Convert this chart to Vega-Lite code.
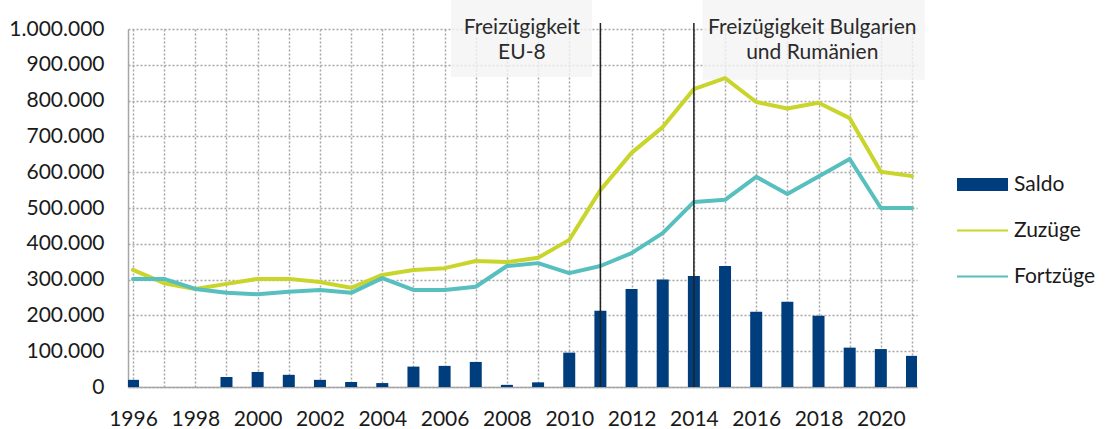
{
  "$schema": "https://vega.github.io/schema/vega-lite/v6.json",
  "width": 789,
  "height": 358,
  "autosize": {"type": "none"},
  "padding": {"left": 128, "top": 29, "right": 190, "bottom": 42},
  "background": "white",
  "config": {
    "view": {"stroke": null},
    "locale": {"number": {"decimal": ",", "thousands": ".", "grouping": [3], "currency": ["", " €"]}},
    "axis": {
      "labelFont": "Lato", "labelFontSize": 21, "labelColor": "#1a1a1a",
      "gridColor": "#a6a6a6", "gridDash": [2, 2], "gridWidth": 1.5,
      "domainColor": "#a6a6a6", "domainWidth": 1.5, "ticks": false, "title": null
    },
    "axisX": {
      "values": [1996,1997,1998,1999,2000,2001,2002,2003,2004,2005,2006,2007,2008,2009,2010,2011,2012,2013,2014,2015,2016,2017,2018,2019,2020,2021],
      "format": "d", "labelExpr": "datum.value % 2 == 0 ? datum.label : ''", "labelPadding": 21, "grid": true
    },
    "axisY": {
      "values": [0,100000,200000,300000,400000,500000,600000,700000,800000,900000,1000000],
      "format": ",d", "labelPadding": 24, "grid": true, "labelOverlap": false
    }
  },
  "datasets": {
    "series": [
      {"year": 1996, "serie": "Saldo", "value": 20000},
      {"year": 1997, "serie": "Saldo", "value": -12000},
      {"year": 1998, "serie": "Saldo", "value": 0},
      {"year": 1999, "serie": "Saldo", "value": 28000},
      {"year": 2000, "serie": "Saldo", "value": 42000},
      {"year": 2001, "serie": "Saldo", "value": 34000},
      {"year": 2002, "serie": "Saldo", "value": 20000},
      {"year": 2003, "serie": "Saldo", "value": 14000},
      {"year": 2004, "serie": "Saldo", "value": 11000},
      {"year": 2005, "serie": "Saldo", "value": 57000},
      {"year": 2006, "serie": "Saldo", "value": 59000},
      {"year": 2007, "serie": "Saldo", "value": 70000},
      {"year": 2008, "serie": "Saldo", "value": 6000},
      {"year": 2009, "serie": "Saldo", "value": 13000},
      {"year": 2010, "serie": "Saldo", "value": 96000},
      {"year": 2011, "serie": "Saldo", "value": 213000},
      {"year": 2012, "serie": "Saldo", "value": 274000},
      {"year": 2013, "serie": "Saldo", "value": 300000},
      {"year": 2014, "serie": "Saldo", "value": 310000},
      {"year": 2015, "serie": "Saldo", "value": 338000},
      {"year": 2016, "serie": "Saldo", "value": 210000},
      {"year": 2017, "serie": "Saldo", "value": 238000},
      {"year": 2018, "serie": "Saldo", "value": 199000},
      {"year": 2019, "serie": "Saldo", "value": 110000},
      {"year": 2020, "serie": "Saldo", "value": 106000},
      {"year": 2021, "serie": "Saldo", "value": 87000},
      {"year": 1996, "serie": "Zuzüge", "value": 327000},
      {"year": 1997, "serie": "Zuzüge", "value": 290000},
      {"year": 1998, "serie": "Zuzüge", "value": 274000},
      {"year": 1999, "serie": "Zuzüge", "value": 288000},
      {"year": 2000, "serie": "Zuzüge", "value": 302000},
      {"year": 2001, "serie": "Zuzüge", "value": 302000},
      {"year": 2002, "serie": "Zuzüge", "value": 293000},
      {"year": 2003, "serie": "Zuzüge", "value": 277000},
      {"year": 2004, "serie": "Zuzüge", "value": 313000},
      {"year": 2005, "serie": "Zuzüge", "value": 327000},
      {"year": 2006, "serie": "Zuzüge", "value": 332000},
      {"year": 2007, "serie": "Zuzüge", "value": 352000},
      {"year": 2008, "serie": "Zuzüge", "value": 349000},
      {"year": 2009, "serie": "Zuzüge", "value": 361000},
      {"year": 2010, "serie": "Zuzüge", "value": 411000},
      {"year": 2011, "serie": "Zuzüge", "value": 550000},
      {"year": 2012, "serie": "Zuzüge", "value": 654000},
      {"year": 2013, "serie": "Zuzüge", "value": 726000},
      {"year": 2014, "serie": "Zuzüge", "value": 832000},
      {"year": 2015, "serie": "Zuzüge", "value": 863000},
      {"year": 2016, "serie": "Zuzüge", "value": 796000},
      {"year": 2017, "serie": "Zuzüge", "value": 778000},
      {"year": 2018, "serie": "Zuzüge", "value": 794000},
      {"year": 2019, "serie": "Zuzüge", "value": 751000},
      {"year": 2020, "serie": "Zuzüge", "value": 601000},
      {"year": 2021, "serie": "Zuzüge", "value": 589000},
      {"year": 1996, "serie": "Fortzüge", "value": 302000},
      {"year": 1997, "serie": "Fortzüge", "value": 302000},
      {"year": 1998, "serie": "Fortzüge", "value": 274000},
      {"year": 1999, "serie": "Fortzüge", "value": 263000},
      {"year": 2000, "serie": "Fortzüge", "value": 259000},
      {"year": 2001, "serie": "Fortzüge", "value": 266000},
      {"year": 2002, "serie": "Fortzüge", "value": 271000},
      {"year": 2003, "serie": "Fortzüge", "value": 263000},
      {"year": 2004, "serie": "Fortzüge", "value": 304000},
      {"year": 2005, "serie": "Fortzüge", "value": 271000},
      {"year": 2006, "serie": "Fortzüge", "value": 271000},
      {"year": 2007, "serie": "Fortzüge", "value": 280000},
      {"year": 2008, "serie": "Fortzüge", "value": 338000},
      {"year": 2009, "serie": "Fortzüge", "value": 346000},
      {"year": 2010, "serie": "Fortzüge", "value": 318000},
      {"year": 2011, "serie": "Fortzüge", "value": 338000},
      {"year": 2012, "serie": "Fortzüge", "value": 374000},
      {"year": 2013, "serie": "Fortzüge", "value": 430000},
      {"year": 2014, "serie": "Fortzüge", "value": 517000},
      {"year": 2015, "serie": "Fortzüge", "value": 523000},
      {"year": 2016, "serie": "Fortzüge", "value": 587000},
      {"year": 2017, "serie": "Fortzüge", "value": 539000},
      {"year": 2018, "serie": "Fortzüge", "value": 588000},
      {"year": 2019, "serie": "Fortzüge", "value": 637000},
      {"year": 2020, "serie": "Fortzüge", "value": 500000},
      {"year": 2021, "serie": "Fortzüge", "value": 500000}
    ],
    "boxes": [
      {"x1": 2006.2, "x2": 2010.73, "yb": 866000, "yt": 1081000},
      {"x1": 2014.28, "x2": 2021.41, "yb": 858000, "yt": 1081000}
    ],
    "rules": [
      {"year": 2011, "y0": 0, "y1": 1017000},
      {"year": 2014, "y0": 0, "y1": 1017000}
    ],
    "labels": [
      {"x": 2008.48, "y": 1004000, "text": "Freizügigkeit"},
      {"x": 2008.48, "y": 932000, "text": "EU-8"},
      {"x": 2017.8, "y": 1004000, "text": "Freizügigkeit Bulgarien"},
      {"x": 2017.8, "y": 932000, "text": "und Rumänien"}
    ]
  },
  "layer": [
    {
      "data": {"name": "boxes"},
      "mark": {"type": "rect", "fill": "#f4f4f4", "opacity": 0.8},
      "encoding": {
        "x": {"field": "x1", "type": "quantitative", "scale": {"domain": [1996, 2021], "nice": false, "zero": false}},
        "x2": {"field": "x2"},
        "y": {"field": "yb", "type": "quantitative", "scale": {"domain": [0, 1000000], "nice": false}},
        "y2": {"field": "yt"}
      }
    },
    {
      "data": {"name": "series"},
      "transform": [{"filter": "datum.serie === 'Saldo'"}],
      "mark": {"type": "bar", "width": 12, "clip": true},
      "encoding": {
        "x": {"field": "year", "type": "quantitative"},
        "y": {"field": "value", "type": "quantitative"},
        "color": {"field": "serie", "type": "nominal",
          "scale": {"domain": ["Saldo", "Zuzüge", "Fortzüge"], "range": ["#003d7c", "#c9d52b", "#58bfbf"]},
          "legend": {
            "orient": "none", "legendX": 829, "legendY": 130, "title": null,
            "symbolType": "M-1,-0.255H1V0.255H-1Z", "symbolSize": 2601,
            "labelFont": "Lato", "labelFontSize": 21, "labelColor": "#1a1a1a", "labelOffset": 6, "rowPadding": 10,
            "encode": {"symbols": {"update": {
              "shape": {"signal": "datum.value === 'Saldo' ? 'M-1,-0.255H1V0.255H-1Z' : 'M-1,-0.04H1V0.04H-1Z'"},
              "fill": {"scale": "color", "field": "value"},
              "stroke": {"value": "transparent"},
              "strokeWidth": {"value": 0},
              "opacity": {"value": 1}
            }}}
          }}
      }
    },
    {
      "data": {"name": "series"},
      "transform": [{"filter": "datum.serie !== 'Saldo'"}],
      "mark": {"type": "line", "strokeWidth": 4, "strokeCap": "round", "strokeJoin": "round"},
      "encoding": {
        "x": {"field": "year", "type": "quantitative"},
        "y": {"field": "value", "type": "quantitative"},
        "color": {"field": "serie", "type": "nominal"}
      }
    },
    {
      "data": {"name": "rules"},
      "mark": {"type": "rule", "color": "#222222", "strokeWidth": 1.5},
      "encoding": {
        "x": {"field": "year", "type": "quantitative"},
        "y": {"field": "y0", "type": "quantitative"},
        "y2": {"field": "y1"}
      }
    },
    {
      "data": {"name": "labels"},
      "mark": {"type": "text", "font": "Lato", "fontSize": 21, "color": "#2a2a2a", "align": "center", "baseline": "middle"},
      "encoding": {
        "x": {"field": "x", "type": "quantitative"},
        "y": {"field": "y", "type": "quantitative"},
        "text": {"field": "text"}
      }
    }
  ]
}
